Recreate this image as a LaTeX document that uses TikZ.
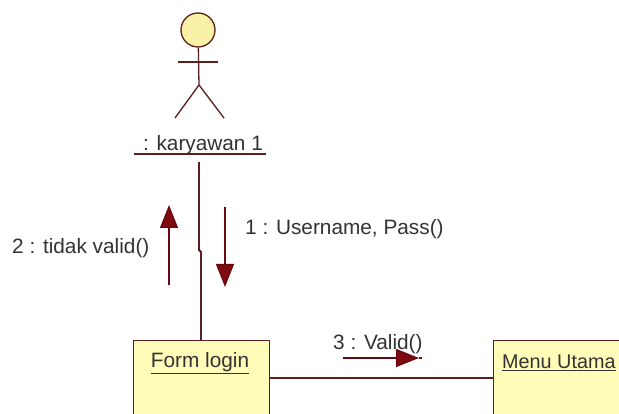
\documentclass[tikz,border=0pt]{standalone}
\usepackage{fontspec}
\setmainfont{Liberation Sans}
\usetikzlibrary{arrows.meta}
\definecolor{umlline}{HTML}{5A2020}
\definecolor{umlarrow}{HTML}{7E0A12}
\definecolor{umlfill}{HTML}{FFFBB8}
\definecolor{umlhead}{HTML}{F9F2A6}
\definecolor{umltext}{HTML}{333333}
\tikzset{
    objbox/.style={draw=umlline, fill=umlfill, line width=1.3pt, anchor=north west, minimum width=136pt, minimum height=120pt},
    lbl/.style={text=umltext, font=\fontsize{20.8}{24}\selectfont, inner sep=0pt},
    conn/.style={draw=umlline, line width=1.3pt},
    msg/.style={draw=umlarrow!85!black, line width=1.3pt, -{Triangle[length=23pt,width=18pt,fill=umlarrow]}}
}
\begin{document}
\begin{tikzpicture}[x=1pt, y=-1pt]
    \clip (0, 0) rectangle (619, 414);
    \fill[white] (0, 0) rectangle (619, 414);
    \node(1)[circle, draw=umlline, fill=umlhead, line width=1.3pt, minimum size=34pt, inner sep=0pt] at (198, 30) {};
    \coordinate(2) at (199, 85);
    \coordinate(3) at (178, 62);
    \coordinate(4) at (218, 62);
    \coordinate(5) at (175, 118);
    \coordinate(6) at (224, 118);
    \path[conn] (1) edge (2) (3) edge (4) (2) edge (5) (2) edge (6);
    \node(8)[lbl] at (203, 145) {: karyawan 1};
    \coordinate(29) at (134, 154);
    \coordinate(30) at (266, 154);
    \path[conn] (29) edge (30);
    \node(9)[objbox] at (133, 340) {};
    \node(10)[objbox] at (493, 340) {};
    \node(11)[lbl] at (200, 363) {\underline{Form login}};
    \node(12)[lbl, font=\fontsize{19.8}{24}\selectfont, anchor=west] at (502, 363) {\underline{Menu Utama}};
    \coordinate(13) at (199, 162);
    \coordinate(14) at (199, 251);
    \coordinate(15) at (201, 251);
    \coordinate(16) at (201, 340);
    \path[conn] (13) edge (14) (14) edge (15) (15) edge (16);
    \coordinate(17) at (269, 378);
    \coordinate(18) at (493, 378);
    \path[conn] (17) edge (18);
    \coordinate(19) at (169, 285);
    \coordinate(20) at (169, 205);
    \path (19) edge[msg] (20);
    \coordinate(21) at (225, 207);
    \coordinate(22) at (225, 287);
    \path (21) edge[msg] (22);
    \coordinate(23) at (343, 358);
    \coordinate(24) at (419, 358);
    \coordinate(25) at (422, 358);
    \path (23) edge[msg] (24);
    \path (24) edge[conn, draw=umlarrow] (25);
    \node(26)[lbl, anchor=west] at (245, 229) {1 : Username, Pass()};
    \node(27)[lbl, anchor=west] at (12, 248) {2 : tidak valid()};
    \node(28)[lbl, anchor=west] at (333, 344) {3 : Valid()};
\end{tikzpicture}
\end{document}
